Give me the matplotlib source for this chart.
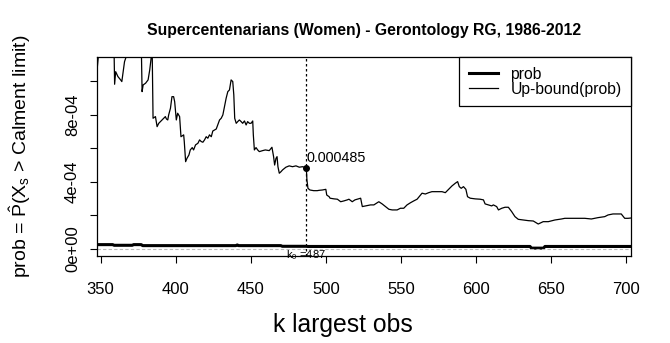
import numpy as np
import matplotlib
matplotlib.use("Agg")
from matplotlib import pyplot as plt

plt.rcParams['font.family'] = ['Liberation Sans', 'DejaVu Sans']
plt.rcParams['mathtext.fontset'] = 'custom'
plt.rcParams['mathtext.rm'] = 'Liberation Sans'
plt.rcParams['mathtext.it'] = 'Liberation Sans:italic'

title = "Supercentenarians (Women) - Gerontology RG, 1986-2012"

# upper bound of the probability (units of 1e-4)
ub_k = [347, 349.5, 358.8, 359.3, 360, 361.5, 363.3, 364.1, 365, 365.9, 366.8, 368, 377, 377.6,
        378.3, 379.9, 381.6, 382.7, 383.6, 384.3, 384.9, 386.5, 387.6, 388.7, 389.8, 392, 393.1,
        393.8, 394.7, 395.3, 396.5, 397.5, 398.6, 399.3, 400.4, 401.3, 402.6, 403.5, 405.3, 405.7,
        406.6, 407.5, 408.8, 409.7, 411, 411.9, 413.2, 414.8, 415.9, 417, 418.1, 419.2, 420.3,
        421.4, 422.5, 423.7, 424.7, 425.8, 427, 428, 429.2, 430.3, 431.4, 432.5, 433.6, 434.7,
        435.8, 436.9, 438, 438.7, 439.3, 440.3, 441.3, 442.4, 443.6, 444.6, 445.8, 446.9, 447.9,
        449.1, 450.2, 451.3, 451.7, 452.4, 453.5, 454.6, 455.7, 457.9, 459.7, 462.3, 464.1, 465.2,
        465.9, 466.8, 467.5, 468.1, 469, 470.1, 471.2, 473.4, 475.6, 477.8, 480.1, 482.3, 484.4,
        487, 487.4, 488.1, 489.4, 491.9, 494.3, 495.5, 497.7, 500, 500.6, 502.2, 502.8, 505.5,
        507.7, 508.3, 509.9, 512.1, 514.3, 515.4, 517.6, 519.4, 520.9, 523.2, 524.3, 526.5, 529.8,
        532, 535.3, 537.5, 539.8, 542, 544.2, 547.5, 549.7, 551.9, 554.1, 556.4, 558.6, 560.8,
        561.9, 564.1, 566.3, 568.5, 570.7, 573, 575.2, 577.4, 579.6, 581.8, 584, 586.2, 587.8,
        588.9, 590.2, 591.7, 593.3, 594.4, 596.2, 599.5, 602.8, 605, 606.1, 608.3, 610.5, 611.6,
        613.8, 615, 617.2, 619.4, 621.6, 623.8, 626, 628.2, 631.6, 634.9, 638.2, 641.5, 644.8,
        648.2, 652.6, 657, 659.2, 663.6, 668.1, 672.5, 676.9, 681.3, 685.8, 688, 691.3, 696.8,
        699.1, 701.3, 703.5]
ub_v = [10.1, 12.5, 12.5, 9.83, 10.58, 10.29, 10.09, 9.99, 10.58, 11.18, 11.42, 12.5, 12.5, 9.39,
        9.79, 9.89, 10.09, 10.69, 11.38, 12.0, 7.8, 7.9, 7.3, 7.5, 7.6, 7.8, 7.9,
        7.76, 7.7, 8.0, 8.4, 9.09, 9.09, 8.79, 7.7, 8.1, 7.9, 6.7, 6.81, 6.41,
        5.21, 5.41, 5.61, 5.91, 6.05, 5.91, 6.21, 6.31, 6.51, 6.41, 6.37, 6.51, 6.7,
        6.61, 6.81, 6.7, 7.04, 7.1, 7.16, 7.4, 7.7, 7.8, 8.0, 8.5, 9.0, 9.39,
        9.49, 10.09, 9.99, 9.19, 7.8, 7.5, 7.6, 7.7, 7.6, 7.5, 7.64, 7.4, 7.6,
        7.5, 7.5, 7.64, 6.81, 5.91, 6.05, 5.91, 5.81, 5.87, 5.91, 5.87, 6.07, 5.51,
        5.01, 5.41, 5.51, 4.91, 4.52, 4.61, 4.72, 4.88, 4.96, 4.91, 4.96, 4.88, 4.91,
        4.85, 4.12, 3.62, 3.52, 3.48, 3.48, 3.5, 3.52, 3.56, 3.22, 3.12, 3.03, 2.99,
        2.97, 2.93, 2.82, 2.87, 2.93, 2.97, 2.82, 2.93, 2.97, 3.03, 2.53, 2.57, 2.63,
        2.63, 2.82, 2.69, 2.53, 2.37, 2.33, 2.33, 2.43, 2.43, 2.63, 2.76, 2.87, 2.97,
        3.09, 3.33, 3.28, 3.36, 3.42, 3.42, 3.42, 3.42, 3.36, 3.56, 3.76, 3.92, 4.02,
        3.72, 3.62, 3.72, 3.56, 3.12, 3.03, 2.99, 2.97, 2.93, 2.69, 2.63, 2.57, 2.63,
        2.53, 2.33, 2.43, 2.49, 2.49, 2.23, 1.93, 1.77, 1.73, 1.69, 1.67, 1.49, 1.63,
        1.63, 1.73, 1.79, 1.83, 1.83, 1.83, 1.83, 1.79, 1.87, 1.93, 2.03, 2.09, 2.09,
        1.83, 1.83, 1.85]

# estimated probability (units of 1e-4)
prob_k = [347, 358, 359, 371, 372, 377, 378, 400, 440, 441, 442, 470, 471, 487, 488, 636, 637, 645, 646, 703.5]
prob_v = [0.26, 0.26, 0.22, 0.22, 0.26, 0.26, 0.20, 0.20, 0.20, 0.24, 0.20, 0.20, 0.16, 0.16, 0.15, 0.15, 0.05, 0.05, 0.15, 0.15]

k0 = 487
p0 = 0.000485

x_ticks = [350, 400, 450, 500, 550, 600, 650, 700]
y_ticks = [0, 2e-4, 4e-4, 6e-4, 8e-4, 10e-4]
y_labels = ["0e+00", "", "4e-04", "", "8e-04", ""]

fig = plt.figure(figsize=(6.7, 3.43), dpi=100)
ax = fig.add_axes([0.1443, 0.2536, 0.7975, 0.5794])

ax.plot(prob_k, np.array(prob_v) * 1e-4, color="black", lw=2.2, label="prob")
ax.plot(ub_k, np.array(ub_v) * 1e-4, color="black", lw=0.9, label="Up-bound(prob)")
ax.axhline(0, color="#bbbbbb", lw=0.8, ls=(0, (3, 2)))
ax.axvline(k0, color="black", lw=0.9, ls=(0, (2, 2)))
ax.plot([k0], [p0], "o", color="black", ms=4)
ax.text(k0, p0 + 0.15e-4, "0.000485", fontsize=10.4, ha="left", va="bottom")
ax.text(k0, -0.35e-4, "$\\mathrm{k_0}$ =487", fontsize=8, ha="center", va="center")

ax.set_xlim(347.35, 703.3)
ax.set_ylim(-0.42e-4, 11.44e-4)
ax.set_xticks(x_ticks)
ax.set_yticks(y_ticks)
ax.set_yticklabels(y_labels, rotation=90, va="center")
ax.tick_params(direction="out", length=5, width=0.8, labelsize=12, color="black")
ax.tick_params(axis="x", pad=14)
ax.tick_params(axis="y", pad=7)
for s in ax.spines.values():
    s.set_linewidth(0.9)

ax.set_title(title, fontsize=11.3, fontweight="bold", pad=16)
ax.set_xlabel("k largest obs", fontsize=17.8)
ax.xaxis.set_label_coords(0.46, -0.285)
ax.set_ylabel("prob = $\\hat{\\mathrm{P}}(\\mathrm{X_s}$ > Calment limit)", fontsize=14)
ax.yaxis.set_label_coords(-0.12, 0.5)

leg = ax.legend(loc="upper right", fontsize=11.3, frameon=True, fancybox=False,
                edgecolor="black", framealpha=1, borderaxespad=0, handlelength=1.85,
                handletextpad=0.8, labelspacing=0.0, borderpad=0.6)
leg.get_frame().set_linewidth(0.9)

fig.savefig("out.png", dpi=100)
